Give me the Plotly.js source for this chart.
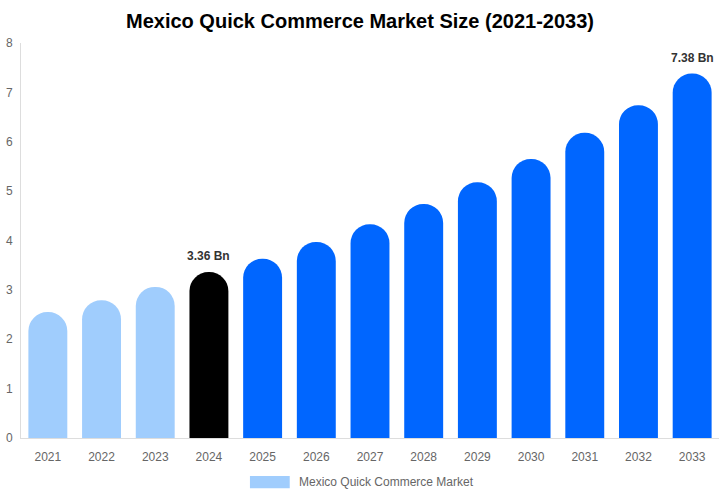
<!DOCTYPE html>
<html>
<head>
<meta charset="utf-8">
<script src="https://cdn.plot.ly/plotly-3.0.1.min.js"></script>
<style>
  html, body { margin: 0; padding: 0; background: #fff; }
  #chart { width: 720px; height: 500px; }
</style>
</head>
<body>
<div id="chart"></div>
<script>
  // Mexico quick commerce market size, USD billions
  const years = ["2021", "2022", "2023", "2024", "2025", "2026", "2027",
                 "2028", "2029", "2030", "2031", "2032", "2033"];
  const values = [2.55, 2.79, 3.06, 3.36, 3.63, 3.97, 4.33,
                  4.74, 5.18, 5.65, 6.18, 6.74, 7.38];
  // history / base year / forecast
  const barColors = ["#a0cdfd", "#a0cdfd", "#a0cdfd", "#000000",
                     "#0066ff", "#0066ff", "#0066ff", "#0066ff", "#0066ff",
                     "#0066ff", "#0066ff", "#0066ff", "#0066ff"];
  const labelledYears = ["2024", "2033"];
  const seriesName = "Mexico Quick Commerce Market";

  const FONT = "Liberation Sans, Arial, sans-serif";
  const AXIS_LINE = "#dddddd";
  const TICK = "#666666";

  const trace = {
    x: years,
    y: values,
    type: "bar",
    name: seriesName,
    width: 0.725,
    marker: { color: barColors, cornerradius: "50%" },
    hoverinfo: "x+y",
  };

  // value labels only on the base year and the last forecast year.
  // x is the category index: a "2024" string gets read as the number 2024.
  const labels = labelledYears.map(function (yr) {
    const i = years.indexOf(yr);
    return {
      x: i, y: values[i], xref: "x", yref: "y",
      text: "<b>" + values[i].toFixed(2) + " Bn</b>",
      showarrow: false, yanchor: "bottom", yshift: 7,
      font: { family: FONT, size: 12, color: "#333333" },
    };
  });

  // legend drawn by hand so the swatch can be a wide bar like the original
  const legendText = {
    xref: "paper", yref: "paper", x: 0.396, y: -0.112,
    xanchor: "left", yanchor: "middle", showarrow: false,
    text: seriesName,
    font: { family: FONT, size: 12, color: TICK },
  };
  const legendSwatch = {
    type: "rect", xref: "paper", yref: "paper",
    x0: 0.328, x1: 0.385, y0: -0.096, y1: -0.127,
    fillcolor: barColors[0], line: { width: 0 },
  };

  const layout = {
    width: 720, height: 500,
    paper_bgcolor: "#ffffff", plot_bgcolor: "#ffffff",
    font: { family: FONT, color: TICK, size: 12 },
    margin: { l: 21, r: 1, t: 43, b: 62 },
    showlegend: false,
    title: {
      text: "<b>Mexico Quick Commerce Market Size (2021-2033)</b>",
      x: 0.5, xanchor: "center", y: 0.958, yanchor: "middle",
      font: { family: FONT, size: 20, color: "#000000" },
    },
    xaxis: {
      type: "category",
      range: [-0.5, years.length - 0.5],
      showgrid: false, zeroline: false,
      showline: true, linecolor: AXIS_LINE, linewidth: 1,
      ticks: "", ticklabelstandoff: 8,
      tickfont: { family: FONT, size: 12, color: TICK },
      automargin: false,
    },
    yaxis: {
      range: [0, 8], dtick: 1,
      showgrid: false, zeroline: false,
      showline: true, linecolor: AXIS_LINE, linewidth: 1,
      ticks: "", ticklabelstandoff: 5,
      tickfont: { family: FONT, size: 12, color: TICK },
      automargin: false,
    },
    annotations: labels.concat([legendText]),
    shapes: [legendSwatch],
  };

  Plotly.newPlot("chart", [trace], layout, { displayModeBar: false, staticPlot: true });
</script>
</body>
</html>
